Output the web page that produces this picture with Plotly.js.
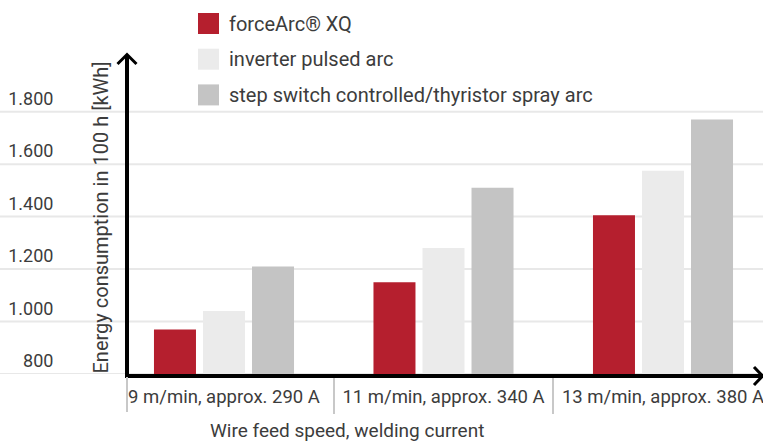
<!DOCTYPE html>
<html><head><meta charset="utf-8">
<script src="https://cdn.plot.ly/plotly-3.0.1.min.js"></script>
<style>html,body{margin:0;padding:0;background:#fff;}#chart{width:763px;height:441px;}</style>
</head><body><div id="chart"></div>
<script>
const categories = ['9 m/min, approx. 290 A', '11 m/min, approx. 340 A', '13 m/min, approx. 380 A'];
const seriesNames = ['forceArc® XQ', 'inverter pulsed arc', 'step switch controlled/thyristor spray arc'];
const forceArcXQ = [970, 1150, 1405];
const inverterPulsedArc = [1040, 1280, 1575];
const stepSwitchSprayArc = [1210, 1510, 1770];
const yTickValues = [800, 1000, 1200, 1400, 1600, 1800];
const yTickLabels = ['800', '1.000', '1.200', '1.400', '1.600', '1.800'];
const yTitle = 'Energy consumption in 100 h [kWh]';
const xTitle = 'Wire feed speed, welding current';

const seriesValues = [forceArcXQ, inverterPulsedArc, stepSwitchSprayArc];
const colors = ['#b51f2e', '#ebebeb', '#c4c4c4'];
const FONT = 'Roboto, "Open Sans", sans-serif';
const TXT = '#3c3c3c';

const W = 763, H = 441, L = 129, R = 0, T = 55, B = 67;
const PW = W - L - R, PH = H - T - B;
const px = v => (v - L) / PW;
const py = v => (H - B - v) / PH;

const traces = seriesValues.map((vals, i) => ({
  type: 'bar', x: categories, y: vals, name: seriesNames[i],
  marker: {color: colors[i], line: {width: 0}},
  showlegend: false, hoverinfo: 'skip'
}));

const shapes = [];
const annotations = [];
// horizontal gridlines spanning the full width
yTickValues.forEach(v => shapes.push({
  type: 'line', xref: 'paper', yref: 'y', x0: px(0), x1: 1, y0: v, y1: v,
  layer: 'below', line: {color: '#e8e8e8', width: 2}
}));
// left category separator below axis
shapes.push({type: 'line', xref: 'paper', yref: 'paper', x0: px(127), x1: px(127), y0: py(377), y1: py(412),
  line: {color: '#c8c8c8', width: 2}});
// arrows
shapes.push({type: 'path', xref: 'paper', yref: 'paper',
  path: `M${px(117.5)},${py(64)} L${px(127)},${py(54.5)} L${px(136.5)},${py(64)}`,
  line: {color: '#000', width: 3}});
shapes.push({type: 'path', xref: 'paper', yref: 'paper',
  path: `M${px(754)},${py(367)} L${px(762.5)},${py(376)} L${px(754)},${py(385)}`,
  line: {color: '#000', width: 3}});
// legend
seriesNames.forEach((n, i) => {
  const top = 13 + i * 35.7;
  shapes.push({type: 'rect', xref: 'paper', yref: 'paper', x0: px(198), x1: px(219), y0: py(top), y1: py(top + 21),
    fillcolor: colors[i], line: {width: 0}});
  annotations.push({xref: 'paper', yref: 'paper', x: px(227), y: py(top + 10.5), xanchor: 'left', yanchor: 'middle',
    text: n, showarrow: false, font: {family: FONT, size: 20, color: TXT}});
});
annotations.push({xref: 'paper', yref: 'paper', x: px(101), y: py(217.5), xanchor: 'center', yanchor: 'middle',
  textangle: -90, text: yTitle, showarrow: false, font: {family: FONT, size: 20, color: TXT}});
annotations.push({xref: 'paper', yref: 'paper', x: px(346.5), y: py(430.5), xanchor: 'center', yanchor: 'middle',
  text: xTitle, showarrow: false, font: {family: FONT, size: 19, color: TXT}});

const layout = {
  width: W, height: H,
  margin: {l: L, r: R, t: T, b: B, pad: 0},
  paper_bgcolor: '#fff', plot_bgcolor: 'rgba(0,0,0,0)',
  font: {family: FONT, size: 18, color: TXT},
  barmode: 'group', bargap: 0.33, bargroupgap: 0.143,
  showlegend: false,
  xaxis: {
    type: 'category', range: [-0.4328, 2.4556], fixedrange: true,
    showline: true, linecolor: '#000', linewidth: 4,
    showgrid: false, zeroline: false,
    tickson: 'boundaries', ticks: 'outside', ticklen: 36, tickwidth: 2, tickcolor: '#c8c8c8',
    ticklabelstandoff: 3,
    tickfont: {family: FONT, size: 18.5, color: TXT}
  },
  yaxis: {
    range: [800, 2016], fixedrange: true,
    showline: true, linecolor: '#000', linewidth: 4,
    showgrid: false, zeroline: false, ticks: '',
    tickvals: yTickValues, ticktext: yTickLabels,
    ticklabelstandoff: 68, ticklabelshift: -13,
    tickfont: {family: FONT, size: 18, color: TXT}
  },
  shapes: shapes, annotations: annotations
};

Plotly.newPlot('chart', traces, layout, {displayModeBar: false, staticPlot: true});
</script></body></html>
